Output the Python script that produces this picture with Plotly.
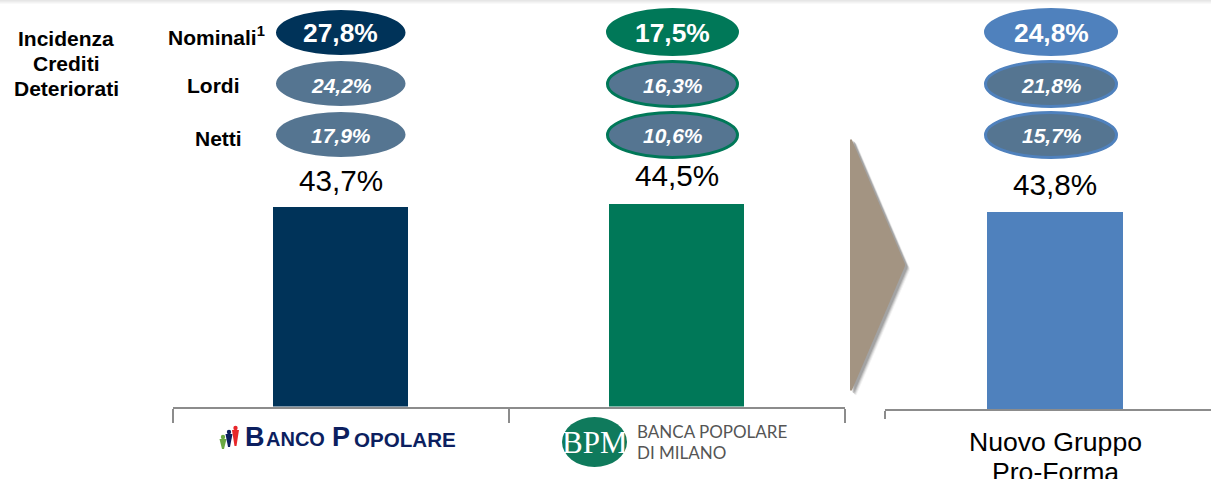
import plotly.graph_objects as go

W, H = 1211, 479
PANEL_A = ["Banco Popolare", "BPM"]
VALUES_A = [43.7, 44.5]
VALUES_B = [43.8]
BAR_LABELS = ["43,7%", "44,5%", "43,8%"]
ROW_LABELS = ["Nominali<sup>1</sup>", "Lordi", "Netti"]
NOMINALI = ["27,8%", "17,5%", "24,8%"]
LORDI = ["24,2%", "16,3%", "21,8%"]
NETTI = ["17,9%", "10,6%", "15,7%"]
SIDE_TITLE = ["Incidenza", "Crediti", "Deteriorati"]
NAVY, GREEN, BLUE, SLATE = "#003359", "#007858", "#4f81bd", "#557591"
FONT = "Liberation Sans"
GRAY = "#8c8c8c"


def X(p):
    return p / W


def Y(p):
    return 1 - p / H


def rect(x0, y0, x1, y1, **kw):
    return dict(type="rect", xref="paper", yref="paper", x0=X(x0), x1=X(x1), y0=Y(y1), y1=Y(y0), **kw)


def oval(x0, y0, x1, y1, fill, line=None, lw=0):
    return dict(type="circle", xref="paper", yref="paper", x0=X(x0), x1=X(x1), y0=Y(y1), y1=Y(y0),
                fillcolor=fill, line=dict(color=line or fill, width=lw), layer="above")


def poly(points, fill, layer="above"):
    path = "M " + " L ".join(f"{X(a):.5f} {Y(b):.5f}" for a, b in points) + " Z"
    return dict(type="path", xref="paper", yref="paper", path=path, fillcolor=fill,
                line=dict(width=0), layer=layer)


annots = []


def text(x, y, s, size, color="#000000", bold=False, italic=False, family=FONT, anchor="center"):
    if bold:
        s = f"<b>{s}</b>"
    if italic:
        s = f"<i>{s}</i>"
    annots.append(dict(xref="paper", yref="paper", x=X(x), y=Y(y), text=s, showarrow=False,
                       xanchor=anchor, yanchor="middle", align="center",
                       font=dict(family=family, size=size, color=color)))


fig = go.Figure()
fig.add_trace(go.Bar(x=[0, 1], y=VALUES_A, width=0.4018, marker=dict(color=[NAVY, GREEN], line=dict(width=0)),
                     xaxis="x", yaxis="y", hoverinfo="skip"))
fig.add_trace(go.Bar(x=[0], y=VALUES_B, width=0.4, marker=dict(color=BLUE, line=dict(width=0)),
                     xaxis="x2", yaxis="y2", hoverinfo="skip"))

shapes = []
# top shadow band
for i, c in enumerate(["#e6e6e6", "#ececec", "#f3f3f3", "#f9f9f9"]):
    shapes.append(rect(0, i, W, i + 1, fillcolor=c, line=dict(width=0), layer="below"))

# arrow with soft shadow, slightly rounded tips
arrow = [(850, 140), (851, 139), (852, 140), (905, 264), (905, 266), (852, 390), (851, 391), (850, 390)]
for off, op in [(6, "rgba(90,90,90,0.08)"), (5, "rgba(90,90,90,0.14)"), (4, "rgba(90,90,90,0.22)"), (3, "rgba(90,90,90,0.28)")]:
    shapes.append(poly([(a + off * 0.8, b + off * 0.7) for a, b in arrow], op))
shapes.append(poly(arrow, "#a39482"))

# ovals
cols = [(276, 405.5, NAVY), (606, 739, GREEN), (984, 1118, BLUE)]
rows_y = [(10, 55), (61, 106), (112, 157)]
for (x0, x1, col), n, l, t in zip(cols, NOMINALI, LORDI, NETTI):
    cx = (x0 + x1) / 2
    shapes.append(oval(x0, 8 if col != NAVY else 10, x1, 56 if col != NAVY else 55, col))
    text(cx, 32.5, n, 26.4, "#ffffff", bold=True)
    for (y0, y1), s, dy in zip(rows_y[1:], [l, t], [85.5, 135.5]):
        if col == NAVY:
            shapes.append(oval(x0, y0, x1, y1, SLATE))
        else:
            shapes.append(oval(x0 + 1.5, y0 + 0.5, x1 - 1.5, y1 + 0.5, SLATE, col, 3))
        text(cx + 0.5, dy, s, 21, "#ffffff", bold=True, italic=True)

# row + side labels
for s, x, y in zip(ROW_LABELS, [216.5, 213.5, 218], [36, 85.5, 138.5]):
    text(x, y, s, 21, bold=True)
for s, y in zip(SIDE_TITLE, [38, 63.5, 88.5]):
    text(66, y, s, 21, bold=True)

# bar labels
for s, x, y in zip(BAR_LABELS, [341, 677, 1055], [180.5, 176, 184]):
    text(x, y, s, 29.7)

# footer labels
text(1055, 442, "Nuovo Gruppo", 26.6)
text(1055, 472, "Pro-Forma", 26.6)

# Banco Popolare wordmark
WORD = "#0c1f5f"
for s, x, y, size in [("B", 243, 437, 27), ("ANCO", 264, 439, 20), ("P", 330, 437, 27), ("OPOLARE", 351.5, 439, 20.6)]:
    text(x, y, s, size, WORD, bold=True, anchor="left")
for cx, cy, end, c in [(223, 437, 449, "#6aa842"), (229, 432, 447, "#0c1f5f"), (235.5, 428, 446, "#e8262a")]:
    shapes.append(oval(cx - 2.2, cy - 2.2, cx + 2.2, cy + 2.2, c))
    shapes.append(poly([(cx - 3.5, cy + 2), (cx + 3.5, cy + 2), (cx + 1, end), (cx - 1, end)], c))

# BPM logo
shapes.append(oval(562, 417, 627, 467, "#0f7a5c"))
text(594.5, 442, "BPM", 31, "#ffffff", family="Liberation Serif")
text(635, 431, "BANCA POPOLARE", 17, "#555555", family="Lato", anchor="left")
text(635, 452, "DI MILANO", 17, "#555555", family="Lato", anchor="left")

axis_common = dict(showgrid=False, zeroline=False, fixedrange=True)
top_a, base_a = 106, 406.5
top_b, base_b = 106, 409
scale_a = 199.2 / 43.7
scale_b = 197 / 43.8
tickstyle = dict(ticks="outside", tickcolor=GRAY, tickwidth=2, showticklabels=False,
                 showline=True, linecolor=GRAY, linewidth=2)
fig.update_layout(
    width=W, height=H, margin=dict(l=0, r=0, t=0, b=0, pad=0), autosize=False,
    paper_bgcolor="#ffffff", plot_bgcolor="rgba(0,0,0,0)", showlegend=False, bargap=0,
    xaxis=dict(domain=[X(173.3), X(845)], range=[-0.5, 1.5], tickmode="array", tickvals=[-0.5, 0.5, 1.5],
               ticklen=14, anchor="y", **tickstyle, **axis_common),
    yaxis=dict(domain=[Y(base_a), Y(top_a)], range=[0, (base_a - top_a) / scale_a], visible=False, **axis_common),
    xaxis2=dict(domain=[X(885), 1], range=[-0.5, -0.5 + (W - 885) / 340], tickmode="array", tickvals=[-0.5],
                ticklen=8, anchor="y2", **tickstyle, **axis_common),
    yaxis2=dict(domain=[Y(base_b), Y(top_b)], range=[0, (base_b - top_b) / scale_b], visible=False, **axis_common),
    shapes=shapes, annotations=annots,
)
fig.write_html("out.html", config=dict(displayModeBar=False),
               post_script="document.body.style.margin='0';document.body.style.overflow='hidden';")
